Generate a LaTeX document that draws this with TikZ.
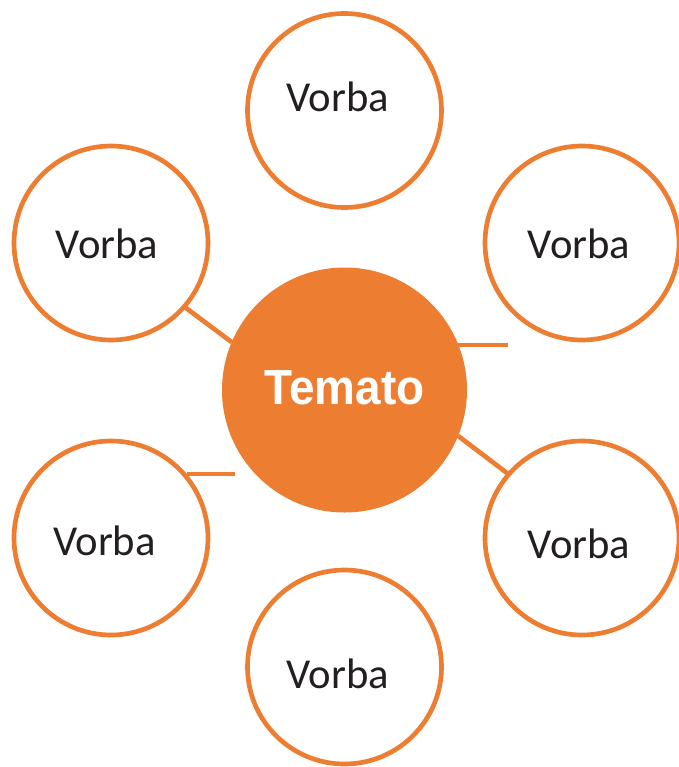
\documentclass[tikz,border=0pt]{standalone}
\usepackage{fontspec}
\setmainfont{Carlito}
\newfontfamily\titlefont{Liberation Sans}
\definecolor{orng}{HTML}{ED7D31}
\definecolor{txt}{HTML}{231F20}
\begin{document}
\begin{tikzpicture}[x=0.75pt,y=-0.75pt,
  ring/.style={circle,draw=orng,line width=3.5pt,fill=white,minimum size=194*0.75pt,inner sep=0pt,outer sep=0pt},
  hub/.style={circle,fill=orng,minimum size=245*0.75pt,inner sep=0pt,outer sep=0pt},
  lbl/.style={anchor=base,inner sep=0pt,text=txt,font=\fontsize{32}{38}\selectfont},
  link/.style={draw=orng,line width=3.5pt}]
\useasboundingbox (0,0) rectangle (678,767);
\node[hub] (c) at (344.5,390) {};
\node[anchor=base,inner sep=0pt,text=white] (ct) at (344.5,404) {\scalebox{0.93}[1]{\titlefont\bfseries\fontsize{37}{40}\selectfont Temato}};
\node[ring] (t) at (344.5,110.5) {};
\node[ring] (ul) at (111,243) {};
\node[ring] (ur) at (582,243) {};
\node[ring] (ll) at (111,538) {};
\node[ring] (lr) at (582,538) {};
\node[ring] (b) at (344.5,667) {};
\node[lbl] (tt) at (337.5,112) {Vorba};
\node[lbl] (ult) at (107,258) {Vorba};
\node[lbl] (urt) at (579,258) {Vorba};
\node[lbl] (llt) at (104.5,555) {Vorba};
\node[lbl] (lrt) at (579,558) {Vorba};
\node[lbl] (bt) at (337.5,688) {Vorba};
\coordinate (ur1) at (458,345);
\coordinate (ur2) at (508,345);
\coordinate (ll1) at (187,474);
\coordinate (ll2) at (235,474);
\draw[link] (ul.-41) -- (c.157);
\draw[link] (ur1) -- (ur2);
\draw[link] (c.-22) -- (lr.139);
\draw[link] (ll1) -- (ll2);
\end{tikzpicture}
\end{document}
